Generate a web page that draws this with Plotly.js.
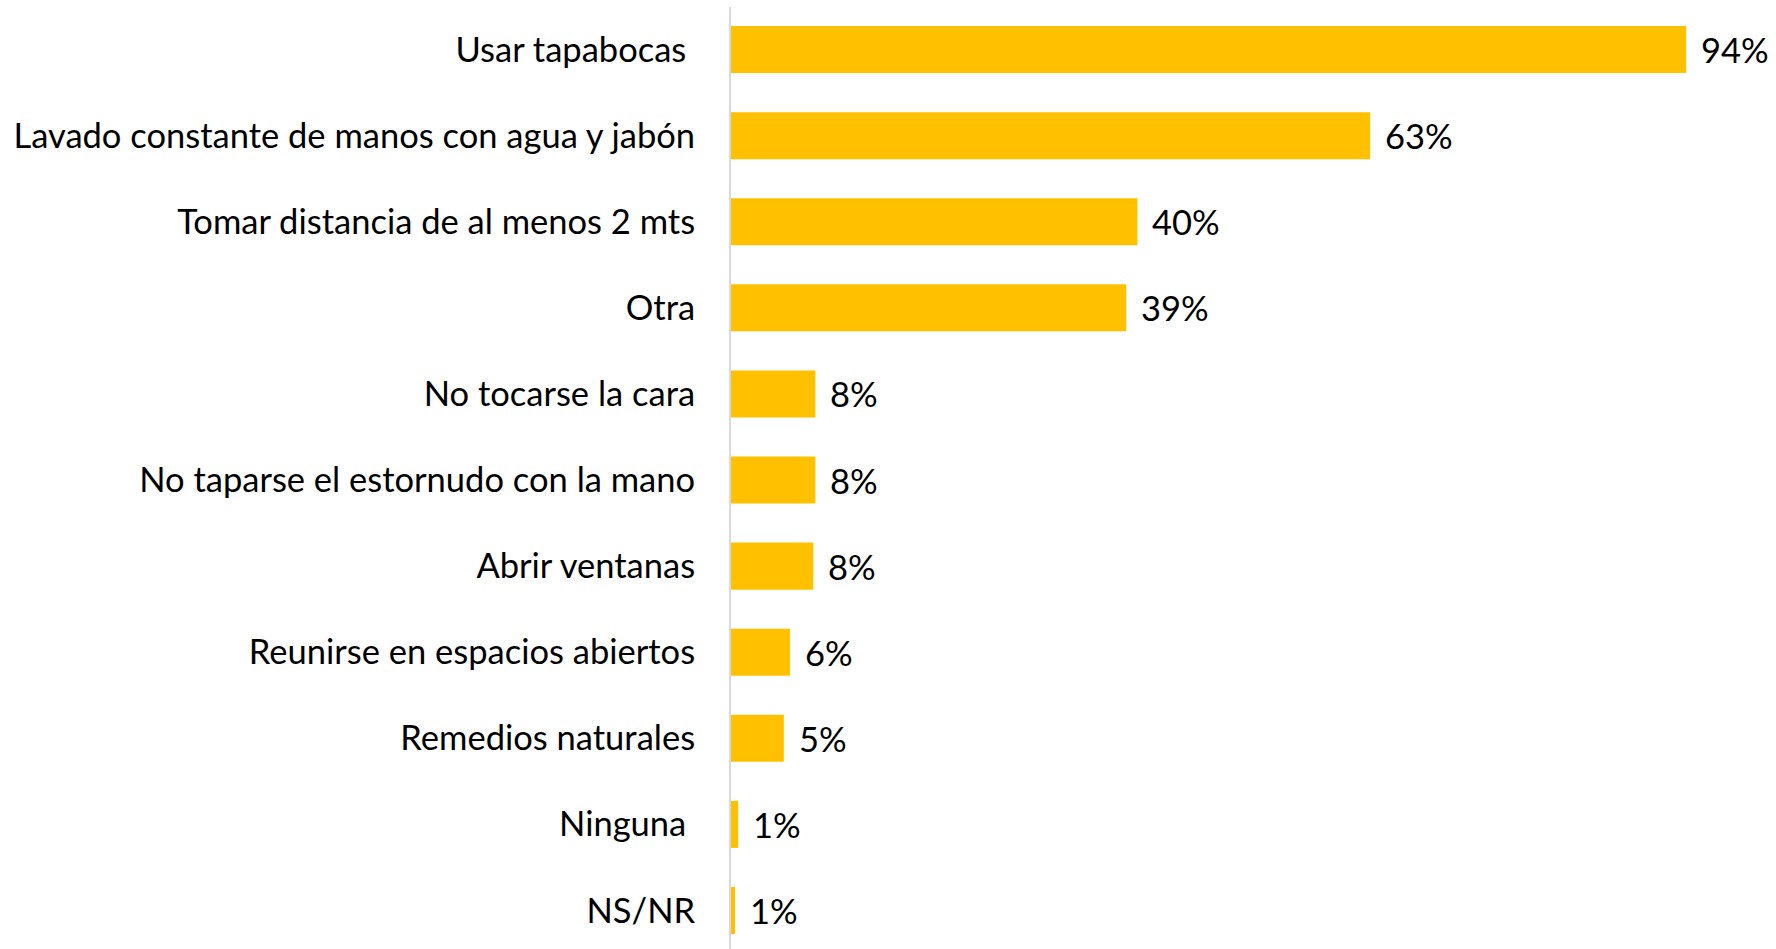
<!DOCTYPE html>
<html>
<head>
<meta charset="utf-8">
<script src="https://cdn.plot.ly/plotly-3.0.1.min.js"></script>
<style>html,body{margin:0;padding:0;background:#fff;}#chart{width:1776px;height:949px;}</style>
</head>
<body>
<div id="chart"></div>
<script>
const categories = [
  "Usar tapabocas ",
  "Lavado constante de manos con agua y jabón",
  "Tomar distancia de al menos 2 mts",
  "Otra",
  "No tocarse la cara",
  "No taparse el estornudo con la mano",
  "Abrir ventanas",
  "Reunirse en espacios abiertos",
  "Remedios naturales",
  "Ninguna ",
  "NS/NR"
];
const values = [94.0, 62.9, 40.0, 38.9, 8.3, 8.3, 8.1, 5.8, 5.2, 0.7, 0.4];
const valueLabels = ["94%", "63%", "40%", "39%", "8%", "8%", "8%", "6%", "5%", "1%", "1%"];

const FONT = "Lato, 'Open Sans', sans-serif";

const trace = {
  type: "bar",
  orientation: "h",
  y: categories,
  x: values,
  marker: {color: "#FFC000"},
  width: 0.546,
  hoverinfo: "skip"
};

const annotations = values.map((v, i) => ({
  x: v, y: categories[i], xref: "x", yref: "y",
  text: valueLabels[i], showarrow: false,
  xanchor: "left", yanchor: "middle", xshift: 13,
  font: {family: FONT, size: 34.5, color: "#000"}
}));

const layout = {
  width: 1776, height: 949,
  margin: {l: 731, r: 0, t: 7, b: 0, pad: 0},
  paper_bgcolor: "#fff", plot_bgcolor: "#fff",
  showlegend: false,
  xaxis: {range: [0, 102.85], visible: false, showgrid: false, zeroline: false, fixedrange: true},
  yaxis: {
    type: "category",
    range: [10.447, -0.494],
    showline: true, linecolor: "#d9d9d9", linewidth: 2,
    showgrid: false, zeroline: false,
    ticks: "outside", ticklen: 27, tickcolor: "rgba(0,0,0,0)",
    tickfont: {family: FONT, size: 34.5, color: "#000"},
    automargin: false, fixedrange: true
  },
  annotations: annotations
};

Plotly.newPlot("chart", [trace], layout, {staticPlot: true, displayModeBar: false});
</script>
</body>
</html>
